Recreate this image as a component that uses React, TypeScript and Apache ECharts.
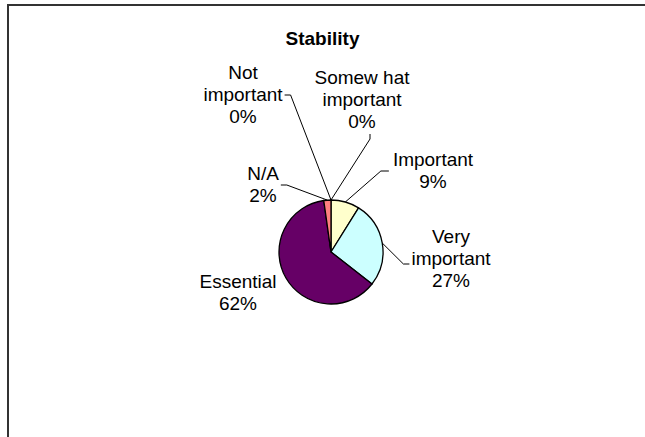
import React, { useEffect, useRef } from "react";
import * as echarts from "echarts";

const chartTitle = "Stability";
const categories = ["Not important", "Somew hat important", "Important", "Very important", "Essential", "N/A"];
const counts = [0, 0, 4, 12, 28, 1];
const sliceColors = ["#9999FF", "#993366", "#FFFFCC", "#CCFFFF", "#660066", "#FF8080"];

// label block centres (layout only)
const labelCenters: [number, number][] = [
  [243, 94],
  [362, 99],
  [433, 170],
  [451, 258],
  [238, 292],
  [263, 184],
];
const leaderKind = ["right", "below", "left", "leftLow", "none", "right"];

const FONT = "'Liberation Sans', Arial, sans-serif";

export default function App() {
  const ref = useRef<HTMLDivElement>(null);
  useEffect(() => {
    if (!ref.current) return;
    const chart = echarts.init(ref.current, undefined, { renderer: "svg" });
    const data = categories.map((name, i) => ({
      name,
      value: counts[i],
      itemStyle: { color: sliceColors[i] },
      labelLine: { show: leaderKind[i] !== "none" },
    }));
    chart.setOption({
      animation: false,
      backgroundColor: "#fff",
      title: {
        text: chartTitle,
        left: "center",
        top: 24,
        textStyle: { fontFamily: FONT, fontSize: 19, fontWeight: "bold", color: "#000" },
      },
      graphic: [
        {
          type: "polyline",
          shape: { points: [[8, 437], [8, 5], [645, 5]] },
          style: { fill: "none", stroke: "#333", lineWidth: 2 },
          silent: true,
        },
      ],
      series: [
        {
          type: "pie",
          center: [331, 252],
          radius: 52,
          startAngle: 90,
          clockwise: true,
          avoidLabelOverlap: false,
          data,
          itemStyle: { borderColor: "#000", borderWidth: 1.3 },
          label: {
            show: true,
            position: "outside",
            fontFamily: FONT,
            fontSize: 19,
            lineHeight: 22,
            color: "#000",
            align: "center",
            formatter: (p: any) => {
              const n: string = p.name;
              const k = n.lastIndexOf(" ");
              const nm = k > 0 ? n.slice(0, k) + "\n" + n.slice(k + 1) : n;
              return nm + "\n" + Math.round(p.percent) + "%";
            },
          },
          labelLine: { show: true, lineStyle: { color: "#000", width: 1 } },
          labelLayout: (p: any) => {
            const i = p.dataIndex;
            const [x, y] = labelCenters[i];
            const w = p.labelRect.width;
            const h = p.labelRect.height;
            const left = x - w / 2;
            const right = x + w / 2;
            const bottom = y + h / 2;
            const a = p.labelLinePoints ? p.labelLinePoints[0] : null;
            let pts: number[][] | undefined;
            if (a) {
              switch (leaderKind[i]) {
                case "right":
                  pts = [a, [right + 8, y + 1], [right + 2, y + 1]];
                  break;
                case "below":
                  pts = [a, [x + 8, bottom + 7], [x + 8, bottom + 2]];
                  break;
                case "left":
                  pts = [a, [left - 12, y + 1], [left - 4, y + 1]];
                  break;
                case "leftLow":
                  pts = [a, [left - 8, y + 6], [left - 2, y + 6]];
                  break;
              }
            }
            const out: any = { x, y, align: "center", verticalAlign: "middle" };
            if (pts) out.labelLinePoints = pts;
            return out;
          },
        },
      ],
    });
    return () => chart.dispose();
  }, []);
  return (
    <div
      ref={ref}
      style={{ position: "absolute", left: 0, top: 0, width: 645, height: 437 }}
    />
  );
}
